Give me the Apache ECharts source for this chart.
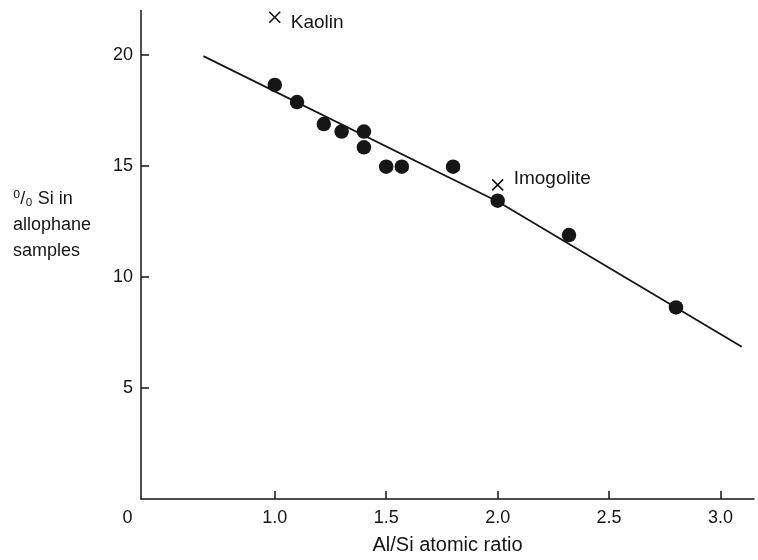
<!DOCTYPE html>
<html>
<head>
<meta charset="utf-8">
<style>
  html, body { margin: 0; padding: 0; background: #fff; }
  #chart { width: 758px; height: 560px; }
</style>
<script src="https://cdn.jsdelivr.net/npm/echarts@6/dist/echarts.min.js"></script>
</head>
<body>
<div id="chart"></div>
<script>
// Al/Si atomic ratio of each allophane sample and its Si content (%)
const sampleRatio = [1.0, 1.1, 1.22, 1.3, 1.4, 1.4, 1.5, 1.57, 1.8, 2.0, 2.32, 2.8];
const sampleSi    = [18.65, 17.88, 16.89, 16.55, 16.55, 15.84, 14.97, 14.97, 14.97, 13.44, 11.89, 8.63];

// Reference minerals
const mineralNames = ['Kaolin', 'Imogolite'];
const mineralRatio = [1.0, 2.0];
const mineralSi    = [21.7, 14.15];

// Trend line through the samples
const trendRatio = [0.68, 2.0, 3.095];
const trendSi    = [19.95, 13.4, 6.86];

// Axis ticks
const xTicks = [1.0, 1.5, 2.0, 2.5, 3.0];
const yTicks = [5, 10, 15, 20];

const FONT = '"Liberation Sans", Arial, "DejaVu Sans", sans-serif';
const INK = '#151515';

const chart = echarts.init(document.getElementById('chart'), null, { renderer: 'canvas' });

const zip = (a, b) => a.map((v, i) => [v, b[i]]);
const labelShift = [[0, 6], [0, -6]];

chart.setOption({
  backgroundColor: '#ffffff',
  animation: false,
  grid: { left: 141, right: 4, top: 10.6, bottom: 61, containLabel: false },
  xAxis: {
    type: 'value',
    min: 0.4,
    max: 3.15,
    name: 'Al/Si atomic ratio',
    nameLocation: 'middle',
    nameGap: 36,
    nameTextStyle: { color: INK, fontFamily: FONT, fontSize: 20 },
    axisLine: { show: true, lineStyle: { color: INK, width: 1.5 } },
    axisTick: { show: true, inside: true, length: 8, customValues: xTicks, lineStyle: { color: INK, width: 1.5 } },
    axisLabel: {
      customValues: [0.4].concat(xTicks),
      margin: 10,
      color: INK,
      fontFamily: FONT,
      fontSize: 18,
      formatter: v => (v < 0.5 ? '{z|0}' : v.toFixed(1)),
      rich: { z: { fontFamily: FONT, fontSize: 18, color: INK, padding: [0, 27, 0, 0] } }
    },
    splitLine: { show: false }
  },
  yAxis: {
    type: 'value',
    min: 0,
    max: 22,
    axisLine: { show: true, lineStyle: { color: INK, width: 1.5 } },
    axisTick: { show: true, inside: true, length: 8, customValues: yTicks, lineStyle: { color: INK, width: 1.5 } },
    axisLabel: { customValues: yTicks, margin: 8, color: INK, fontFamily: FONT, fontSize: 18 },
    splitLine: { show: false }
  },
  graphic: [{
    type: 'text',
    left: 13,
    top: 186,
    style: {
      text: '⁰/₀ Si in\nallophane\nsamples',
      fontFamily: FONT,
      fontSize: 18,
      lineHeight: 26,
      fill: INK,
      align: 'left'
    }
  }],
  series: [
    {
      name: 'trend',
      type: 'line',
      data: zip(trendRatio, trendSi),
      showSymbol: false,
      symbol: 'none',
      lineStyle: { color: INK, width: 1.8 },
      silent: true,
      z: 2
    },
    {
      name: 'allophane',
      type: 'scatter',
      data: zip(sampleRatio, sampleSi),
      symbol: 'circle',
      symbolSize: 14.5,
      itemStyle: { color: '#161616', opacity: 1 },
      z: 3
    },
    {
      name: 'minerals',
      type: 'scatter',
      data: mineralNames.map((n, i) => ({
        name: n,
        value: [mineralRatio[i], mineralSi[i]],
        label: { offset: labelShift[i] }
      })),
      symbol: 'path://M0,0L10,10M10,0L0,10',
      symbolSize: 11,
      itemStyle: { color: 'none', borderColor: INK, borderWidth: 1.6, opacity: 1 },
      label: {
        show: true,
        position: 'right',
        distance: 8,
        formatter: p => p.name,
        color: INK,
        fontFamily: FONT,
        fontSize: 19
      },
      z: 4
    }
  ]
});
</script>
</body>
</html>
